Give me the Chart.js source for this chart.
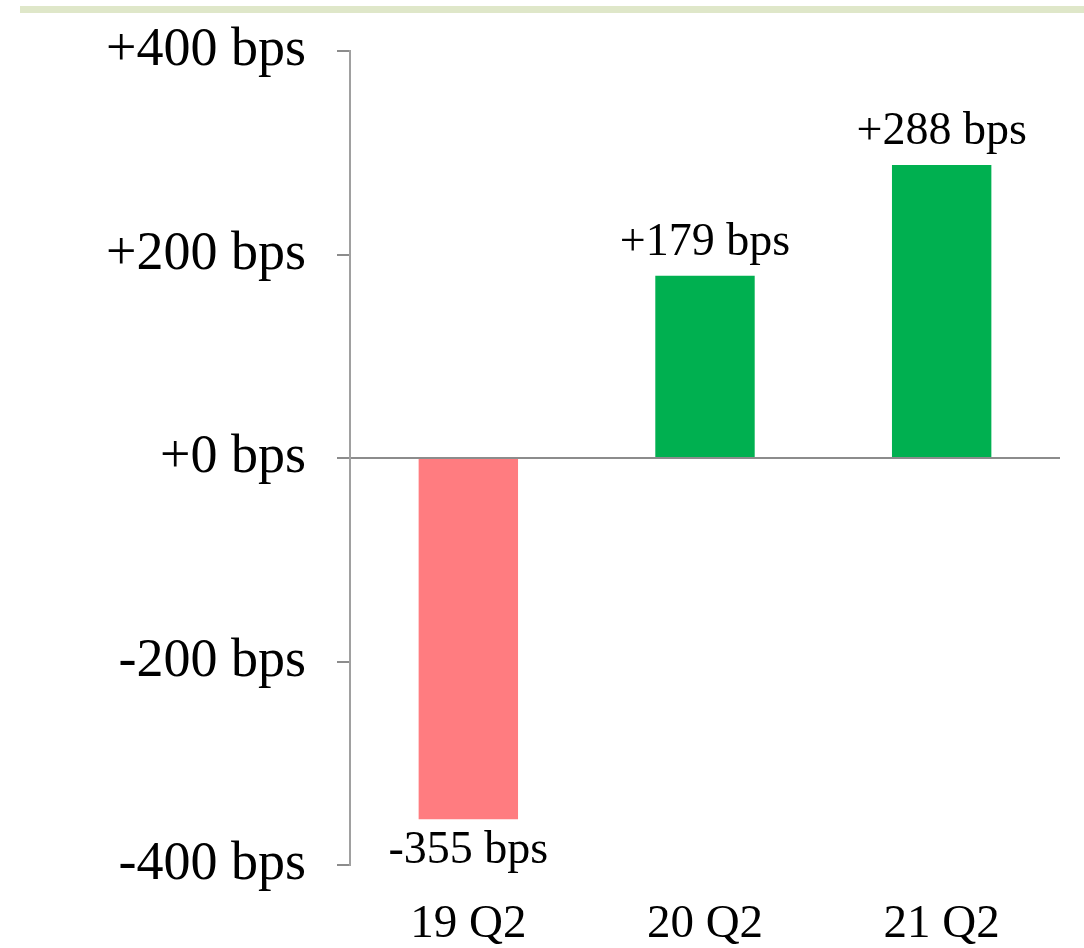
<!DOCTYPE html>
<html>
<head>
<meta charset="utf-8">
<script src="https://cdn.jsdelivr.net/npm/chart.js@4/dist/chart.umd.min.js"></script>
<style>
  html, body { margin: 0; padding: 0; background: #fff; }
  #wrap { width: 1084px; height: 948px; position: relative; }
</style>
</head>
<body>
<div id="wrap"><canvas id="c"></canvas></div>
<script>
// Quarterly change, in basis points
const categories = ['19 Q2', '20 Q2', '21 Q2'];
const changeBps = [-355, 179, 288];
const yTicks = [-400, -200, 0, 200, 400];

const FONT = 'Liberation Serif';
const POS = '#00B050';
const NEG = '#FF7C80';

const fmt = v => (v >= 0 ? '+' : '') + v + ' bps';

// Thin band across the top of the slide
const topBand = {
  id: 'topBand',
  beforeDraw(chart) {
    const ctx = chart.ctx;
    ctx.save();
    ctx.fillStyle = '#DFE7C9';
    ctx.fillRect(20, 6, chart.width - 20, 7);
    ctx.restore();
  }
};

// Value labels above positive bars, below negative ones
const valueLabels = {
  id: 'valueLabels',
  afterDatasetsDraw(chart) {
    const ctx = chart.ctx;
    const meta = chart.getDatasetMeta(0);
    ctx.save();
    ctx.font = '46px "' + FONT + '"';
    ctx.fillStyle = '#000';
    ctx.textAlign = 'center';
    ctx.textBaseline = 'alphabetic';
    meta.data.forEach((bar, i) => {
      const v = changeBps[i];
      const y = v >= 0 ? bar.y - 21 : bar.y + 44;
      ctx.fillText(fmt(v), bar.x, y);
    });
    ctx.restore();
  }
};

new Chart(document.getElementById('c'), {
  type: 'bar',
  data: {
    labels: categories,
    datasets: [{
      data: changeBps,
      backgroundColor: changeBps.map(v => v >= 0 ? POS : NEG),
      borderWidth: 0,
      barPercentage: 0.42,
      categoryPercentage: 1.0
    }]
  },
  options: {
    responsive: true,
    maintainAspectRatio: false,
    animation: false,
    layout: { padding: { top: 51, right: 24, left: 0, bottom: 0 } },
    plugins: {
      legend: { display: false },
      tooltip: { enabled: false }
    },
    scales: {
      x: {
        grid: { display: false, drawTicks: false },
        border: { display: false },
        ticks: {
          color: '#000',
          font: { family: FONT, size: 47 },
          padding: 31
        },
        afterFit(scale) { scale.height = 83; }
      },
      y: {
        min: -400,
        max: 400,
        afterBuildTicks(scale) { scale.ticks = yTicks.map(v => ({ value: v })); },
        grid: {
          drawOnChartArea: true,
          color: ctx => (ctx.tick && ctx.tick.value === 0) ? '#8C8C8C' : 'rgba(0,0,0,0)',
          tickColor: '#8C8C8C',
          tickLength: 13,
          lineWidth: 2
        },
        border: { display: true, color: '#A0A0A0', width: 2 },
        ticks: {
          color: '#000',
          font: { family: FONT, size: 54 },
          padding: 31,
          callback: v => fmt(v)
        },
        afterFit(scale) {
          scale.width = 350;
          scale.paddingTop = 0;
          scale.paddingBottom = 0;
        }
      }
    }
  },
  plugins: [topBand, valueLabels]
});
</script>
</body>
</html>
